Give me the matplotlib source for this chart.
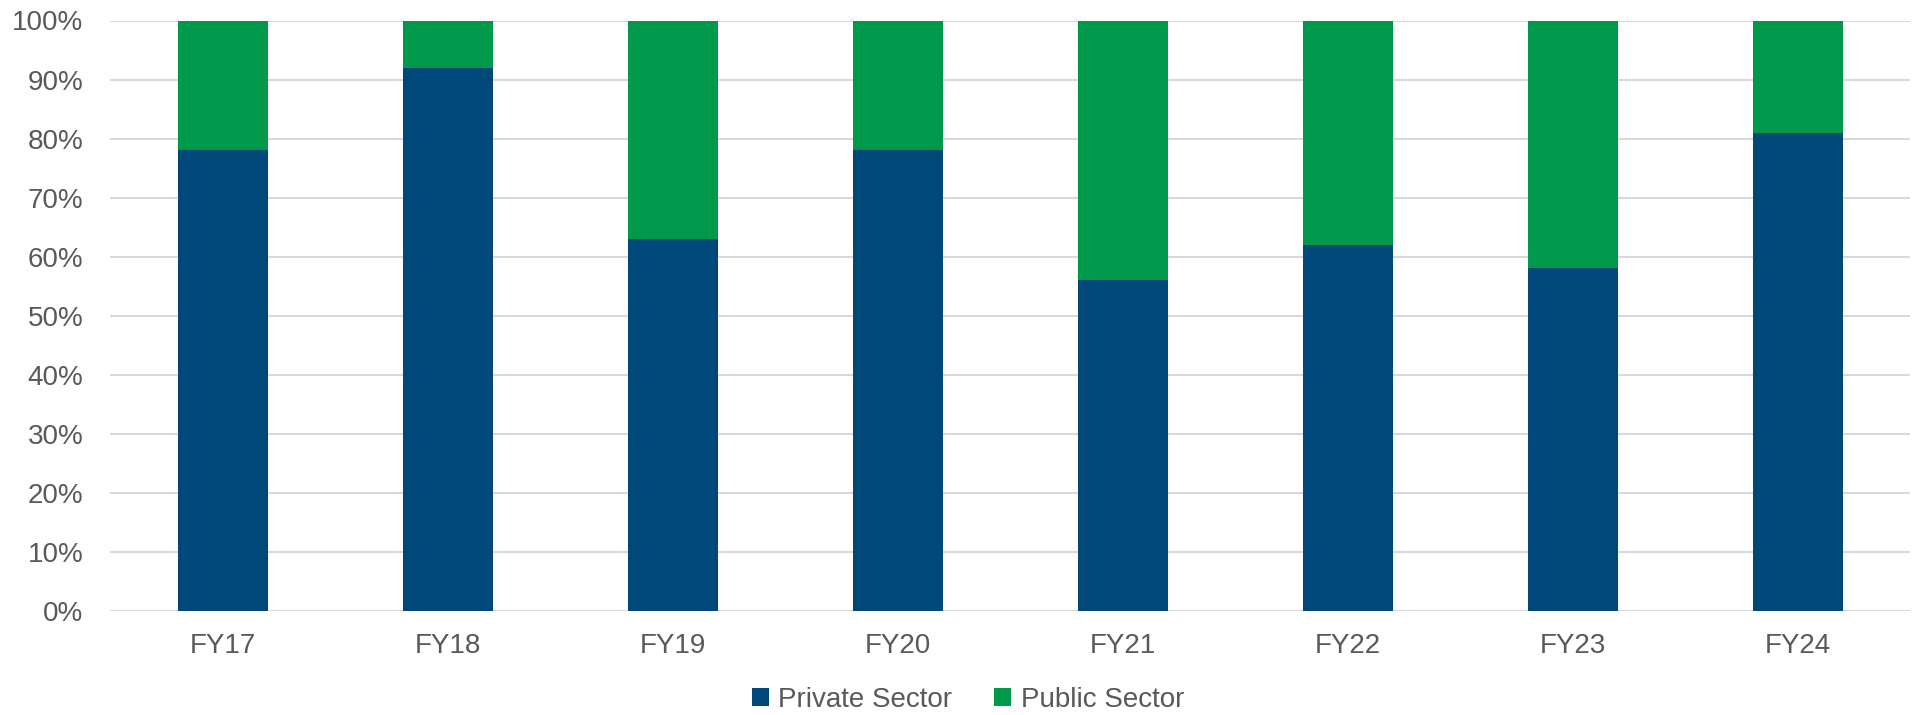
import matplotlib.pyplot as plt
import numpy as np

years = ["FY17", "FY18", "FY19", "FY20", "FY21", "FY22", "FY23", "FY24"]
private_sector = [78, 92, 63, 78, 56, 62, 58, 81]
public_sector = [22, 8, 37, 22, 44, 38, 42, 19]

navy = "#00487A"
green = "#00984B"
text_grey = "#595959"

plt.rcParams["font.family"] = ["Liberation Sans", "DejaVu Sans"]

fig = plt.figure(figsize=(19.13, 7.15), dpi=100)
ax = fig.add_axes([110 / 1913, 1 - 610.7 / 715, 1800 / 1913, 590.2 / 715])

x = np.arange(len(years))
ax.bar(x, private_sector, width=0.4, color=navy, label="Private Sector", zorder=3)
ax.bar(x, public_sector, width=0.4, bottom=private_sector, color=green,
       label="Public Sector", zorder=3)

ax.set_xlim(-0.5, len(years) - 0.5)
ax.set_ylim(0, 100)
ax.set_yticks(range(0, 101, 10))
ax.set_yticklabels([f"{v}%" for v in range(0, 101, 10)])
ax.set_xticks(x)
ax.set_xticklabels(years)

ax.grid(axis="y", color="#D9D9D9", linewidth=1.5, zorder=0)
ax.set_axisbelow(True)
for s in ax.spines.values():
    s.set_visible(False)
ax.tick_params(axis="both", length=0, labelsize=20, labelcolor=text_grey)
ax.tick_params(axis="y", pad=19)
ax.tick_params(axis="x", pad=16)

fig.legend(loc="center", bbox_to_anchor=(968 / 1913, 1 - 700 / 715), ncol=2,
           frameon=False, fontsize=20, labelcolor=text_grey, handlelength=0.6,
           handleheight=0.6, handletextpad=0.35, columnspacing=1.5)

fig.savefig("out.png", dpi=100, facecolor="white")
